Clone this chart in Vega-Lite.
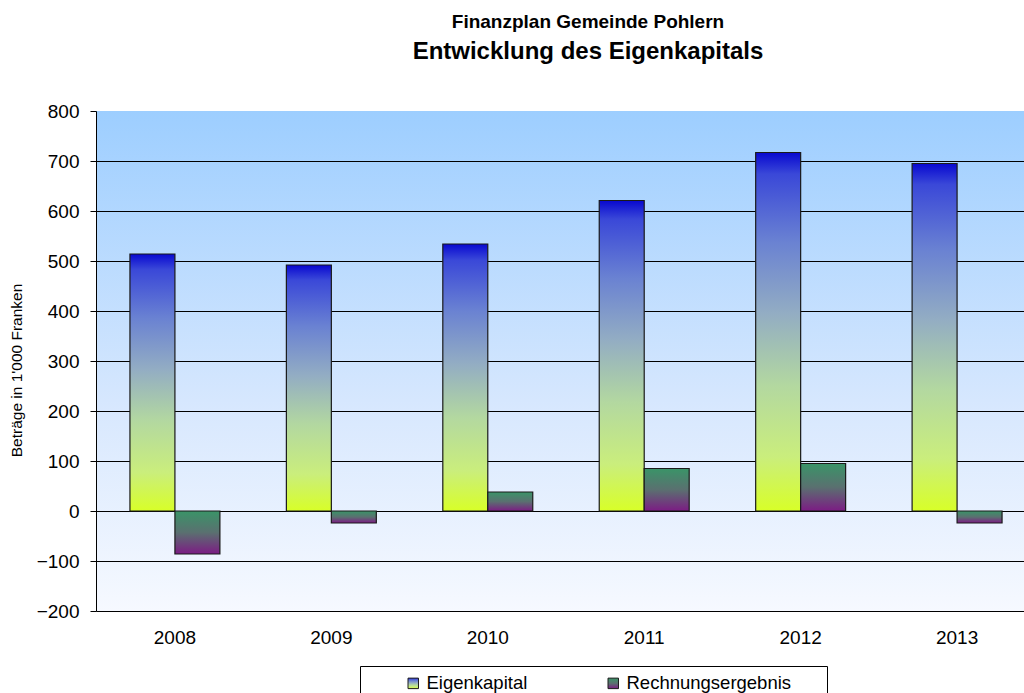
{
  "$schema": "https://vega.github.io/schema/vega-lite/v6.json",
  "autosize": "none",
  "width": 940,
  "height": 500,
  "padding": {"left": 96, "top": 111, "right": 0, "bottom": 82},
  "background": "white",
  "config": {
    "font": "Liberation Sans",
    "view": {
      "stroke": null,
      "fill": {"gradient": "linear", "x1": 0, "y1": 0, "x2": 0, "y2": 1,
        "stops": [{"offset": 0, "color": "#9dceff"}, {"offset": 0.6, "color": "#d8e8fe"}, {"offset": 1, "color": "#f6f9ff"}]}
    }
  },
  "title": {
    "text": "Finanzplan Gemeinde Pohlern",
    "subtitle": "Entwicklung des Eigenkapitals",
    "fontSize": 19,
    "fontWeight": "bold",
    "subtitleFontSize": 24,
    "subtitleFontWeight": "bold",
    "subtitleColor": "black",
    "subtitlePadding": 8,
    "color": "black",
    "anchor": "middle",
    "dx": 22,
    "offset": 38
  },
  "data": {
    "values": [
      {"year": "2008", "series": "Eigenkapital", "betrag": 514},
      {"year": "2008", "series": "Rechnungsergebnis", "betrag": -86},
      {"year": "2009", "series": "Eigenkapital", "betrag": 492},
      {"year": "2009", "series": "Rechnungsergebnis", "betrag": -24},
      {"year": "2010", "series": "Eigenkapital", "betrag": 534},
      {"year": "2010", "series": "Rechnungsergebnis", "betrag": 38},
      {"year": "2011", "series": "Eigenkapital", "betrag": 621},
      {"year": "2011", "series": "Rechnungsergebnis", "betrag": 85},
      {"year": "2012", "series": "Eigenkapital", "betrag": 717},
      {"year": "2012", "series": "Rechnungsergebnis", "betrag": 95},
      {"year": "2013", "series": "Eigenkapital", "betrag": 695},
      {"year": "2013", "series": "Rechnungsergebnis", "betrag": -24}
    ]
  },
  "mark": {
    "type": "bar",
    "strokeWidth": 1.2,
    "fill": {"expr": "((datum.series || datum.value) === 'Eigenkapital') ? {'id': 'gEK', 'gradient': 'linear', 'x1': 0, 'y1': 0, 'x2': 0, 'y2': 1, 'stops': [{'offset': 0, 'color': '#0808d0'}, {'offset': 0.06, 'color': '#3a48d8'}, {'offset': 0.25, 'color': '#6a82d2'}, {'offset': 0.45, 'color': '#93adc3'}, {'offset': 0.65, 'color': '#b3d8a0'}, {'offset': 0.85, 'color': '#caee7c'}, {'offset': 1, 'color': '#d8ff28'}]} : {'id': 'gRE', 'gradient': 'linear', 'x1': 0, 'y1': 0, 'x2': 0, 'y2': 1, 'stops': [{'offset': 0, 'color': '#3a9468'}, {'offset': 0.5, 'color': '#5a7070'}, {'offset': 1, 'color': '#7c1c84'}]}"}
  },
  "encoding": {
    "x": {
      "field": "year", "type": "nominal",
      "scale": {"paddingInner": 0.425, "paddingOuter": 0.217},
      "axis": {"title": null, "labelAngle": 0, "labelFontSize": 19, "labelColor": "black", "labelPadding": 17, "domain": false, "ticks": false}
    },
    "xOffset": {"field": "series", "type": "nominal", "scale": {"domain": ["Eigenkapital", "Rechnungsergebnis"], "paddingInner": 0, "paddingOuter": 0}},
    "y": {
      "field": "betrag", "type": "quantitative",
      "scale": {"domain": [-200, 800], "nice": false, "zero": false},
      "axis": {
        "title": "Beträge in 1'000 Franken",
        "titleFontSize": 15.5, "titleFontWeight": "normal", "titleColor": "black", "titlePadding": 12, "titleY": 259,
        "values": [-200, -100, 0, 100, 200, 300, 400, 500, 600, 700, 800],
        "labelFontSize": 19, "labelColor": "black", "labelPadding": 11,
        "tickSize": 6, "tickColor": "black", "domainColor": "black",
        "gridColor": {"condition": {"test": "datum.value === 800", "value": null}, "value": "black"},
        "gridWidth": 1
      }
    },
    "stroke": {
      "field": "series", "type": "nominal",
      "scale": {"domain": ["Eigenkapital", "Rechnungsergebnis"], "range": ["#1a1a1a", "#1a1a1a"]},
      "legend": {
        "title": "\u00a0", "titleOrient": "right", "titlePadding": 28, "titleFontSize": 10,
        "orient": "none", "direction": "horizontal",
        "legendX": 264, "legendY": 555,
        "strokeColor": "black", "fillColor": "white", "padding": 8,
        "symbolType": "square", "symbolSize": 110, "symbolStrokeWidth": 1,
        "symbolOffset": 36, "columnPadding": 40,
        "labelFontSize": 18.5, "labelColor": "black", "labelLimit": 300
      }
    }
  }
}
